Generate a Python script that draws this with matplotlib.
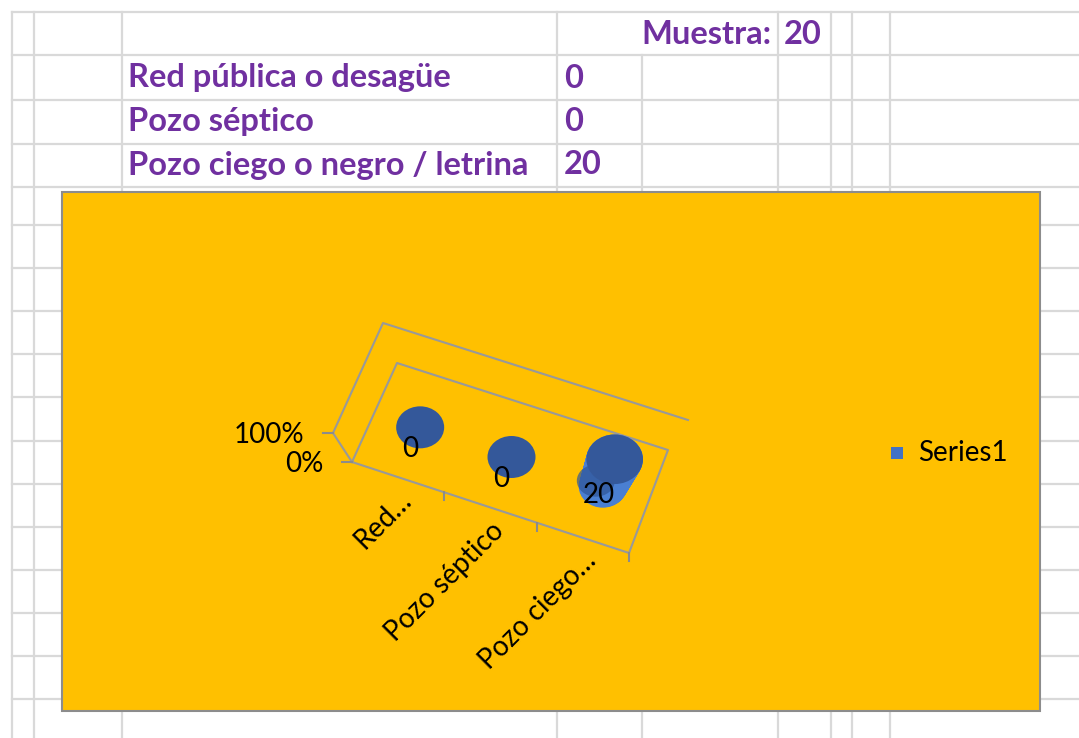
import numpy as np
import matplotlib.pyplot as plt
from matplotlib.patches import Rectangle, Ellipse

# data from the sheet
categories = ['Red pública o desagüe', 'Pozo séptico', 'Pozo ciego o negro / letrina']
axis_labels = ['Red…', 'Pozo séptico', 'Pozo ciego…']
values = [0, 0, 20]
muestra = 20
series_name = 'Series1'
value_ticks = [0, 1]
value_tick_labels = ['0%', '100%']

purple = '#7030A0'
gridc = '#d9d9d9'
W, H = 1079, 738

fig = plt.figure(figsize=(W / 100, H / 100), dpi=100)
ax = fig.add_axes([0, 0, 1, 1])
ax.set_xlim(0, W)
ax.set_ylim(H, 0)
ax.axis('off')

# spreadsheet grid
rows = [12, 55, 100, 144, 187] + [225 + 43.1 * k for k in range(12)]
for y in rows:
    ax.plot([12, W], [y, y], color=gridc, lw=1.6, zorder=1)
for x in [12, 34, 122, 557, 778, 831, 852, 890]:
    ax.plot([x, x], [12, H], color=gridc, lw=1.6, zorder=1)
ax.plot([642, 642], [55, H], color=gridc, lw=1.6, zorder=1)

# table text
tfont = dict(family='Lato', weight='bold', color=purple, fontsize=23.5)
ax.text(771, 35, 'Muestra:', ha='right', va='center', **tfont)
ax.text(784, 35, str(muestra), ha='left', va='center', **tfont)
for i, (c, v) in enumerate(zip(categories, values)):
    y = 78 + 43.5 * i
    ax.text(128, y, c, ha='left', va='center', **tfont)
    ax.text(564, y, str(v), ha='left', va='center', **tfont)

# chart area
ax.add_patch(Rectangle((62, 192), 978, 519, facecolor='#FFC000',
                       edgecolor='#8c8c8c', lw=1.5, zorder=2))

# pseudo 3D projection of (category, depth, value share)
n = len(values)
floor = {'FL': np.array([352., 462.]), 'FR': np.array([629., 553.]),
         'BR': np.array([668., 450.]), 'BL': np.array([397., 363.])}
up = {'FL': np.array([-19., -29.]), 'FR': np.array([15., -22.]),
      'BR': np.array([20., -30.]), 'BL': np.array([-14., -40.])}


def bil(c, u, d):
    return ((1 - u) * (1 - d) * c['FL'] + u * (1 - d) * c['FR']
            + u * d * c['BR'] + (1 - u) * d * c['BL'])


def proj(x, d, z):
    u = x / n
    return bil(floor, u, d) + z * bil(up, u, d)


wallc = '#999999'
pts = np.array([proj(0, 0, 1), proj(0, 1, 1), proj(n, 1, 1)])
ax.plot(pts[:, 0], pts[:, 1], color=wallc, lw=1.5, zorder=3)
pts = np.array([proj(0, 0, 0), proj(0, 0, 1)])
ax.plot(pts[:, 0], pts[:, 1], color=wallc, lw=1.5, zorder=3)
pts = np.array([proj(0, 0, 0), proj(0, 1, 0), proj(n, 1, 0), proj(n, 0, 0), proj(0, 0, 0)])
ax.plot(pts[:, 0], pts[:, 1], color=wallc, lw=1.5, zorder=3)

# value axis ticks
cfont = dict(family='Lato', fontsize=20, color='black')
for t, lab in zip(value_ticks, value_tick_labels):
    p = proj(0, 0, t)
    ax.plot([p[0] - 10, p[0]], [p[1], p[1]], color='#8c8c8c', lw=1.5, zorder=3)
    ax.text(p[0] - 29, p[1] + 2, lab, ha='right', va='center', zorder=5, **cfont)

# category ticks and labels
for k in range(1, n + 1):
    p = proj(k, 0, 0)
    ax.plot([p[0], p[0]], [p[1], p[1] + 8], color='#8c8c8c', lw=1.5, zorder=3)
for i, lab in enumerate(axis_labels):
    p = proj(i + 0.5, 0, 0)
    ax.text(p[0] + 9, p[1] + 19, lab, rotation=45, rotation_mode='anchor',
            ha='right', va='center', zorder=5, **cfont)

# 100% stacked cylinders (single series)
totals = np.array(values, dtype=float)
share = np.divide(values, totals, out=np.zeros(n), where=totals > 0)
for i, s in enumerate(share):
    base = proj(i + 0.5, 0.5, 0)
    top = proj(i + 0.5, 0.5, s)
    if s > 0:
        for f in np.linspace(0, 1, 40):
            c = base + f * (top - base)
            sc = 1 + 0.18 * s * f
            ax.add_patch(Ellipse(c, 48 * sc, 42 * sc, facecolor='#4a7fd2',
                                 edgecolor='none', zorder=4))
        ax.add_patch(Ellipse(base + np.array([-7, -6]), 38, 32, facecolor='#2f5597',
                             edgecolor='none', alpha=0.7, zorder=4))
    sc = 1 + 0.18 * s
    ax.add_patch(Ellipse(top, 48 * sc, 42 * sc, facecolor='#34589a',
                         edgecolor='none', zorder=4))
    lp = proj(i + 0.5, 0.5, s / 2)
    ax.text(lp[0] - 10, lp[1] + 22, str(values[i]), ha='center', va='center',
            zorder=6, **cfont)

# legend
ax.add_patch(Rectangle((891, 447), 12, 12, facecolor='#4472C4', zorder=5))
ax.text(918, 453, series_name, ha='left', va='center', zorder=5, **cfont)

fig.savefig('out.png', dpi=100)
